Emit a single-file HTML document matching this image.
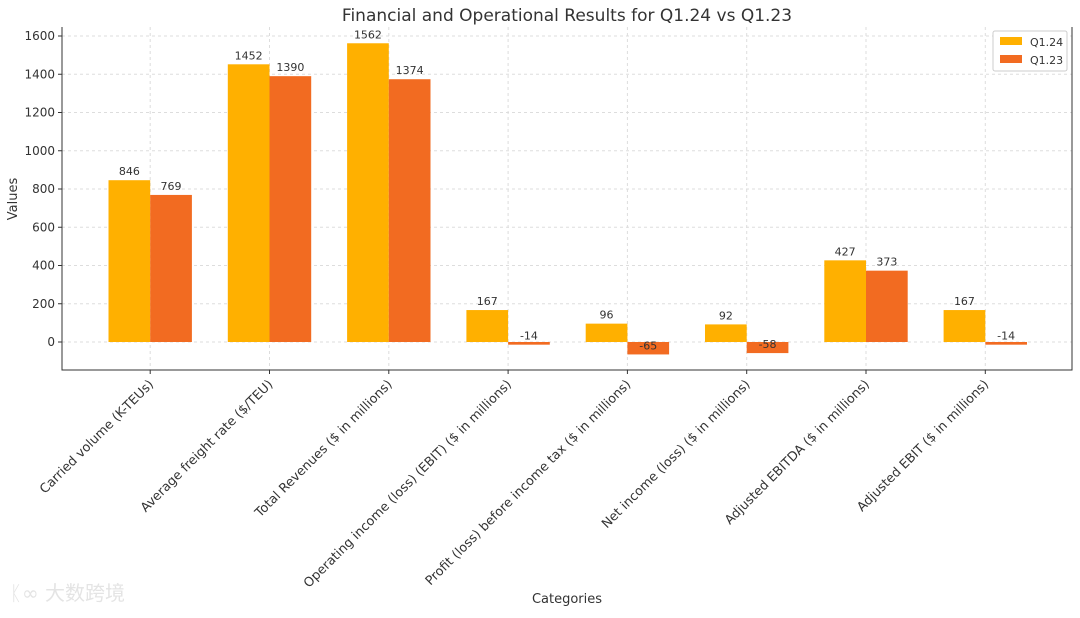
<!DOCTYPE html>
<html><head><meta charset="utf-8"><style>
body{margin:0;background:#fff;font-family:"Liberation Sans","DejaVu Sans",sans-serif}
svg text{font-family:"DejaVu Sans","Liberation Sans",sans-serif}
</style></head><body>
<svg id="c" width="1080" height="613" xmlns="http://www.w3.org/2000/svg"></svg>
<script>
const categories=["Carried volume (K-TEUs)","Average freight rate ($/TEU)","Total Revenues ($ in millions)","Operating income (loss) (EBIT) ($ in millions)","Profit (loss) before income tax ($ in millions)","Net income (loss) ($ in millions)","Adjusted EBITDA ($ in millions)","Adjusted EBIT ($ in millions)"];
const q124=[846,1452,1562,167,96,92,427,167];
const q123=[769,1390,1374,-14,-65,-58,373,-14];
const yTicks=[0,200,400,600,800,1000,1200,1400,1600];
const C1="#FFB000",C2="#F26B21";
const L=62,R=1072,T=27,B=370;
const y=v=>342-v*0.19125;
const step=119.3,x0=150.2;
const x=i=>x0+i*step;
const bw=41.7;
const s=document.getElementById('c');
const NS="http://www.w3.org/2000/svg";
function mk(t,a,txt){const e=document.createElementNS(NS,t);for(const k in a)e.setAttribute(k,a[k]);if(txt!=null)e.textContent=txt;s.appendChild(e);return e;}
yTicks.forEach(v=>{const g=mk('line',{x1:L,x2:R,y1:y(v),y2:y(v),stroke:'#ddd','stroke-dasharray':'3,3'});
});
categories.forEach((c,i)=>{const g=mk('line',{x1:x(i),x2:x(i),y1:T,y2:B,stroke:'#ddd','stroke-dasharray':'3,3'});
});
function bar(v,xl,col,nm){const top=Math.min(y(v),y(0)),h=Math.abs(y(v)-y(0));
const r=mk('rect',{x:xl,y:top,width:bw,height:h,fill:col});

const t=mk('text',{x:xl+bw/2,y:y(v)-5,'text-anchor':'middle','font-size':11,fill:'#333'},String(v));
}
categories.forEach((c,i)=>{bar(q124[i],x(i)-bw,C1,'bar-q124');bar(q123[i],x(i),C2,'bar-q123');});
const ax=mk('path',{d:`M${L} ${T}V${B}H${R}V${T}`,fill:'none',stroke:'#333','stroke-width':1});

yTicks.forEach(v=>{mk('line',{x1:L-4,x2:L,y1:y(v),y2:y(v),stroke:'#333'});
const t=mk('text',{x:L-7,y:y(v)+4,'text-anchor':'end','font-size':12,fill:'#333'},String(v));
});
categories.forEach((c,i)=>{mk('line',{x1:x(i),x2:x(i),y1:B,y2:B+4,stroke:'#333'});
const t=mk('text',{x:x(i)+4,y:B+15,'text-anchor':'end','font-size':12.8,fill:'#333',transform:`rotate(-45 ${x(i)+4} ${B+15})`},c);
});
</script>
<svg style="position:absolute;left:0;top:0" width="1080" height="613" xmlns="http://www.w3.org/2000/svg">
<text x="567" y="21" text-anchor="middle" font-size="17" fill="#333">Financial and Operational Results for Q1.24 vs Q1.23</text>
<text x="567" y="603" text-anchor="middle" font-size="13" fill="#333">Categories</text>
<text x="17" y="199" text-anchor="middle" font-size="13" fill="#333" transform="rotate(-90 17 199)">Values</text>
<g>
<rect x="993" y="31" width="74" height="40" fill="#fff" stroke="#ccc" rx="2"/>
<rect x="1000" y="37" width="22" height="8" fill="#FFB000"/>
<text x="1030" y="46" font-size="11" fill="#333">Q1.24</text>
<rect x="1000" y="55" width="22" height="8" fill="#F26B21"/>
<text x="1030" y="64" font-size="11" fill="#333">Q1.23</text>
</g>
<text x="10" y="600" font-size="20" fill="#e4e4e4" font-family="Noto Sans CJK SC,sans-serif">ᛕ∞ 大数跨境</text>
</svg>
</body></html>
